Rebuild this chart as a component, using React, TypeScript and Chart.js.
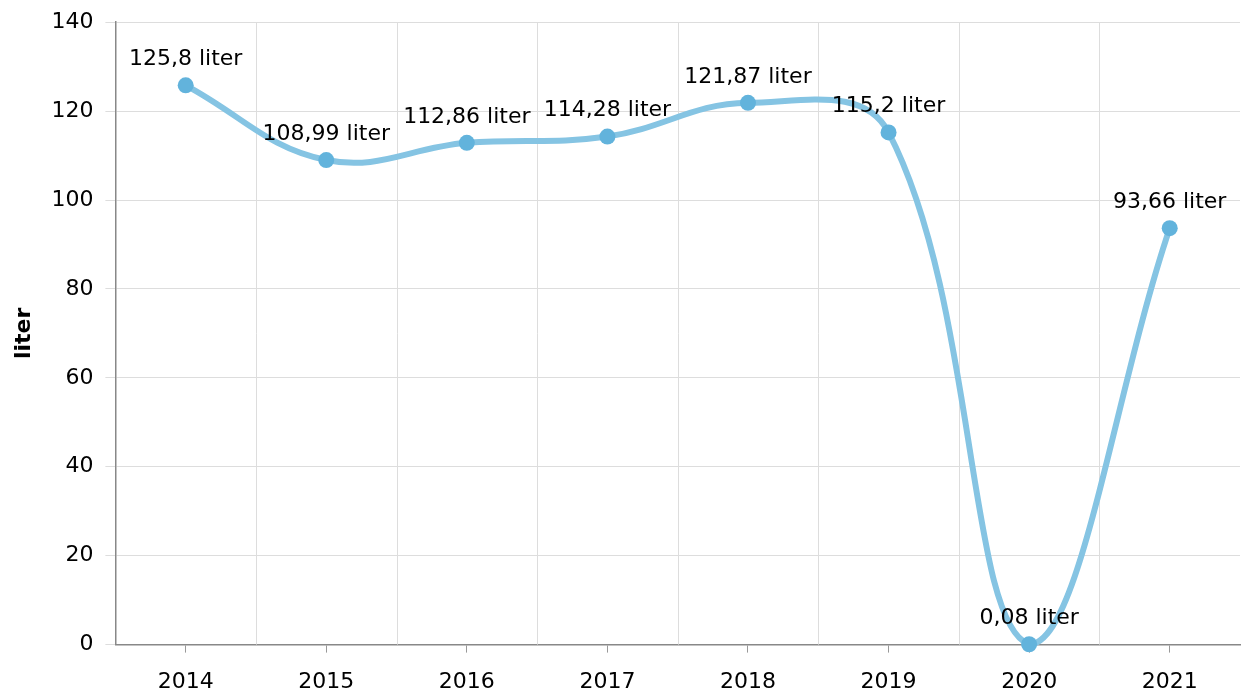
import React, { useEffect, useRef } from "react";
import { Chart, registerables } from "chart.js";

Chart.register(...registerables);

const years = ["2014", "2015", "2016", "2017", "2018", "2019", "2020", "2021"];
const values = [125.8, 108.99, 112.86, 114.28, 121.87, 115.2, 0.08, 93.66];
const valueLabels = ["125,8 liter", "108,99 liter", "112,86 liter", "114,28 liter", "121,87 liter", "115,2 liter", "0,08 liter", "93,66 liter"];
const yTitle = "liter";

const FONT = "'DejaVu Sans', Verdana, sans-serif";
const FS = 22;

const vGridPlugin = {
  id: "vgrid",
  beforeDatasetsDraw(chart: any) {
    const { ctx, chartArea, scales } = chart;
    const x = scales.x;
    ctx.save();
    ctx.strokeStyle = "#dddddd";
    ctx.lineWidth = 1;
    for (let i = 1; i < years.length; i++) {
      const px = Math.round((x.getPixelForValue(i - 1) + x.getPixelForValue(i)) / 2) + 0.5;
      ctx.beginPath();
      ctx.moveTo(px, chartArea.top);
      ctx.lineTo(px, chartArea.bottom);
      ctx.stroke();
    }
    ctx.restore();
  },
};

const labelPlugin = {
  id: "valueLabels",
  afterDatasetsDraw(chart: any) {
    const { ctx } = chart;
    const meta = chart.getDatasetMeta(0);
    ctx.save();
    ctx.fillStyle = "#000000";
    ctx.font = `${FS}px ${FONT}`;
    ctx.textAlign = "center";
    ctx.textBaseline = "middle";
    meta.data.forEach((pt: any, i: number) => {
      ctx.fillText(valueLabels[i], pt.x, pt.y - 26);
    });
    ctx.restore();
  },
};

export default function App() {
  const ref = useRef<HTMLCanvasElement>(null);
  useEffect(() => {
    if (!ref.current) return;
    const chart = new Chart(ref.current, {
      type: "line",
      data: {
        labels: years,
        datasets: [
          {
            data: values,
            borderColor: "#85c4e3",
            backgroundColor: "#62b3dc",
            borderWidth: 6,
            tension: 0.4,
            pointRadius: 8,
            pointBorderWidth: 0,
            pointBackgroundColor: "#62b3dc",
            clip: 9,
          },
        ],
      },
      options: {
        animation: false,
        responsive: false,
        maintainAspectRatio: false,
        layout: { padding: { left: 0, right: 0, top: 5, bottom: 0 } },
        plugins: { legend: { display: false }, tooltip: { enabled: false } },
        scales: {
          x: {
            offset: true,
            grid: {
              offset: false,
              drawOnChartArea: false,
              tickLength: 8,
              color: "#999999",
            },
            border: { color: "#888888", width: 1.5 },
            ticks: { color: "#000", font: { family: FONT, size: FS }, padding: 16, maxRotation: 0 },
          },
          y: {
            min: 0,
            max: 140,
            ticks: { stepSize: 20, color: "#000", font: { family: FONT, size: FS }, padding: 12 },
            grid: { color: "#dddddd", tickLength: 10 },
            border: { color: "#888888", width: 1.5 },
            title: {
              display: true,
              text: yTitle,
              color: "#000",
              font: { family: FONT, size: FS, weight: "bold" },
              padding: { top: 11, bottom: 2 },
            },
          },
        },
      },
      plugins: [vGridPlugin, labelPlugin],
    });
    return () => chart.destroy();
  }, []);
  return (
    <div style={{ position: "fixed", left: 0, top: 0, width: 1242, height: 691, background: "#fff", overflow: "hidden" }}>
      <canvas ref={ref} width={1248} height={714} style={{ display: "block", position: "relative", top: -3 }} />
    </div>
  );
}
